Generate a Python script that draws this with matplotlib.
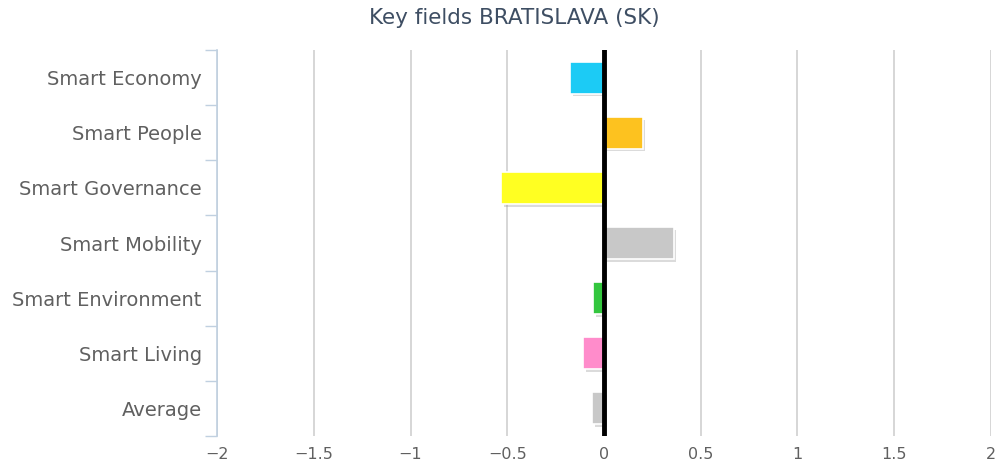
import matplotlib
matplotlib.use("Agg")
import matplotlib.pyplot as plt
import matplotlib.patheffects as pe
import numpy as np

categories = ["Smart Economy", "Smart People", "Smart Governance", "Smart Mobility",
              "Smart Environment", "Smart Living", "Average"]
values = [-0.175, 0.20, -0.53, 0.36, -0.055, -0.11, -0.06]
colors = ["#1ccbf5", "#fdc21f", "#ffff22", "#c8c8c8", "#33c63e", "#ff8ccb", "#c8c8c8"]
xticks = [-2, -1.5, -1, -0.5, 0, 0.5, 1, 1.5, 2]
xticklabels = ["\u22122", "\u22121.5", "\u22121", "\u22120.5", "0", "0.5", "1", "1.5", "2"]

plt.rcParams['font.family'] = ['DejaVu Sans']

fig = plt.figure(figsize=(10.03, 4.71), dpi=100)
ax = fig.add_axes([0.2164, 0.0743, 0.7716, 0.8195])

n = len(categories)
ypos = np.arange(n)
bars = ax.barh(ypos, values, height=0.58, color=colors, edgecolor="white", linewidth=1.2,
               zorder=3)
for b in bars:
    b.set_path_effects([pe.SimplePatchShadow(offset=(2, -2), shadow_rgbFace="#999999", alpha=0.35),
                        pe.Normal()])

ax.set_ylim(n - 0.5, -0.5)
ax.set_xlim(-2, 2)

ax.set_xticks(xticks)
ax.set_xticklabels(xticklabels, fontsize=11.5, color="#606060")
ax.set_yticks(ypos)
ax.set_yticklabels(categories, fontsize=14, color="#606060")
ax.tick_params(axis="y", length=0, pad=11)
ax.tick_params(axis="x", length=0, pad=8)
ax.set_yticks(np.arange(-0.5, n, 1.0), minor=True)
ax.tick_params(axis="y", which="minor", length=9, color="#c0d0e0", width=1)

for x in xticks:
    if x != 0:
        ax.axvline(x, color="#cfcfcf", linewidth=1.2, zorder=1)
ax.axvline(0, color="black", linewidth=3.5, zorder=5)

for s in ["top", "right", "bottom"]:
    ax.spines[s].set_visible(False)
ax.spines["left"].set_color("#c0d0e0")
ax.spines["left"].set_linewidth(1.2)

fig.text(0.513, 0.962, "Key fields BRATISLAVA (SK)", ha="center", va="center",
         fontsize=15.5, color="#3e4e63")

fig.savefig("out.png", dpi=100, facecolor="white")
